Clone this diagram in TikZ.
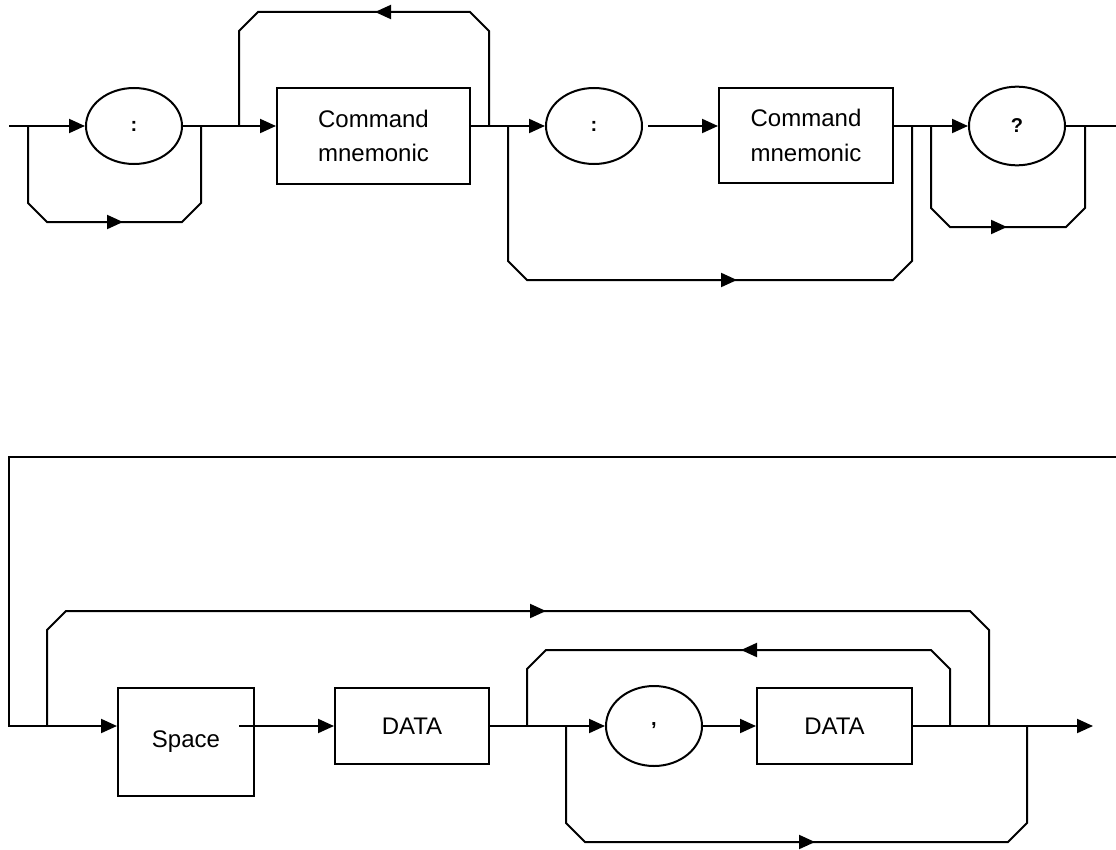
\documentclass[tikz,border=0pt]{standalone}
\usepackage{fontspec}
\setmainfont{Liberation Sans}
\usetikzlibrary{arrows.meta, shapes.geometric, calc}
\tikzset{
    line/.style = { line width=1.5pt, black },
    flow/.style = { line, -{Triangle[length=12pt, width=10.5pt]} },
    box/.style  = { draw, line width=1.5pt, rectangle, inner sep=0pt, align=center,
                    font=\fontsize{18}{26}\selectfont },
    oval/.style = { draw, line width=1.5pt, ellipse, inner sep=0pt,
                    minimum width=72pt, minimum height=57pt,
                    font=\bfseries\fontsize{15}{17}\selectfont }
}
% chamfered side tracks: from, to, distance (in px)
\newcommand{\loopunder}[3]{\draw[line] (#1) -- ++(0,#3-19) -- ++(19,19) -- ($(#2)+(-19,#3)$) -- ++(19,-19) -- (#2);}
\newcommand{\loopover}[3]{\draw[line] (#1) -- ++(0,19-#3) -- ++(19,-19) -- ($(#2)+(-19,-#3)$) -- ++(19,19) -- (#2);}

\begin{document}
\begin{tikzpicture}[x=0.75pt, y=-0.75pt]
    \useasboundingbox (0,0) rectangle (1116,849);

    %%%
    %%% Header path
    %%%
    % Junctions
    \coordinate (in) at (9,126);
    \coordinate (j1) at (28,126);
    \coordinate (j2) at (201,126);
    \coordinate (j3) at (239,126);
    \coordinate (j4) at (489,126);
    \coordinate (j5) at (508,126);
    \coordinate (j6) at (912,126);
    \coordinate (j7) at (931,126);
    \coordinate (j8) at (1085,126);
    \coordinate (out) at (1116,126);
    % Elements
    \node[oval] (colA) at (134,126) {:};
    \node[box, minimum width=144.75pt, minimum height=72pt] (cmdA) at (373.5,136) {Command\\mnemonic};
    \node[oval] (colB) at (594,126) {:};
    \node[box, minimum width=130.5pt, minimum height=71.25pt] (cmdB) at (806,135.5) {Command\\mnemonic};
    \node[oval, minimum height=59pt] (qry) at (1017,126) {?};
    % Main line
    \draw[line] (in) -- (j1);
    \draw[flow] (j1) -- (colA);
    \draw[line] (colA) -- (j2) -- (j3);
    \draw[flow] (j3) -- (cmdA.west |- j3);
    \draw[line] (cmdA.east |- j4) -- (j4) -- (j5);
    \draw[flow] (j5) -- (colB);
    \draw[flow, shorten <=4pt] (colB) -- (cmdB.west |- colB);
    \draw[line] (cmdB.east |- j6) -- (j6) -- (j7);
    \draw[flow] (j7) -- (qry);
    \draw[line] (qry) -- (out);
    % Side tracks
    \loopunder{j1}{j2}{96}
    \draw[flow] ($(j1)+(19,96)$) -- ++(76,0);
    \loopover{j3}{j4}{114}
    \draw[flow] ($(j4)+(-19,-114)$) -- ++(-95,0);
    \loopunder{j5}{j6}{154}
    \draw[flow] ($(j5)+(19,154)$) -- ++(210,0);
    \loopunder{j7}{j8}{101}
    \draw[flow] ($(j7)+(19,101)$) -- ++(57,0);

    %%%
    %%% Parameter path
    %%%
    % Junctions
    \coordinate (wrap) at (1116,457);
    \coordinate (k0) at (9,726);
    \coordinate (k1) at (47,726);
    \coordinate (k2) at (239,726);
    \coordinate (k3) at (527,726);
    \coordinate (k4) at (566,726);
    \coordinate (k5) at (950,726);
    \coordinate (k6) at (989,726);
    \coordinate (k7) at (1027,726);
    \coordinate (end) at (1093,726);
    % Elements
    \node[box, minimum width=102pt, minimum height=81pt] (spc) at (186,742) {Space};
    \node[box, minimum width=115.5pt, minimum height=57pt] (datA) at (412,726) {DATA};
    \node[oval, minimum height=60pt] (cma) at (654,726) {,};
    \node[box, minimum width=116.25pt, minimum height=57pt] (datB) at (834.5,726) {DATA};
    % Main line
    \draw[line] (wrap) -| (k0) -- (k1);
    \draw[flow] (k1) -- (spc.west |- k1);
    \draw[flow] (k2) -- (datA);
    \draw[line] (datA) -- (k3) -- (k4);
    \draw[flow] (k4) -- (cma);
    \draw[flow] (cma) -- (datB);
    \draw[line] (datB) -- (k5) -- (k6) -- (k7);
    \draw[flow] (k7) -- (end);
    % Side tracks
    \loopover{k1}{k6}{115}
    \draw[flow] ($(k1)+(19,-115)$) -- ++(480,0);
    \loopover{k3}{k5}{76}
    \draw[flow] ($(k5)+(-19,-76)$) -- ++(-190,0);
    \loopunder{k4}{k7}{116}
    \draw[flow] ($(k4)+(19,116)$) -- ++(230,0);
\end{tikzpicture}
\end{document}
